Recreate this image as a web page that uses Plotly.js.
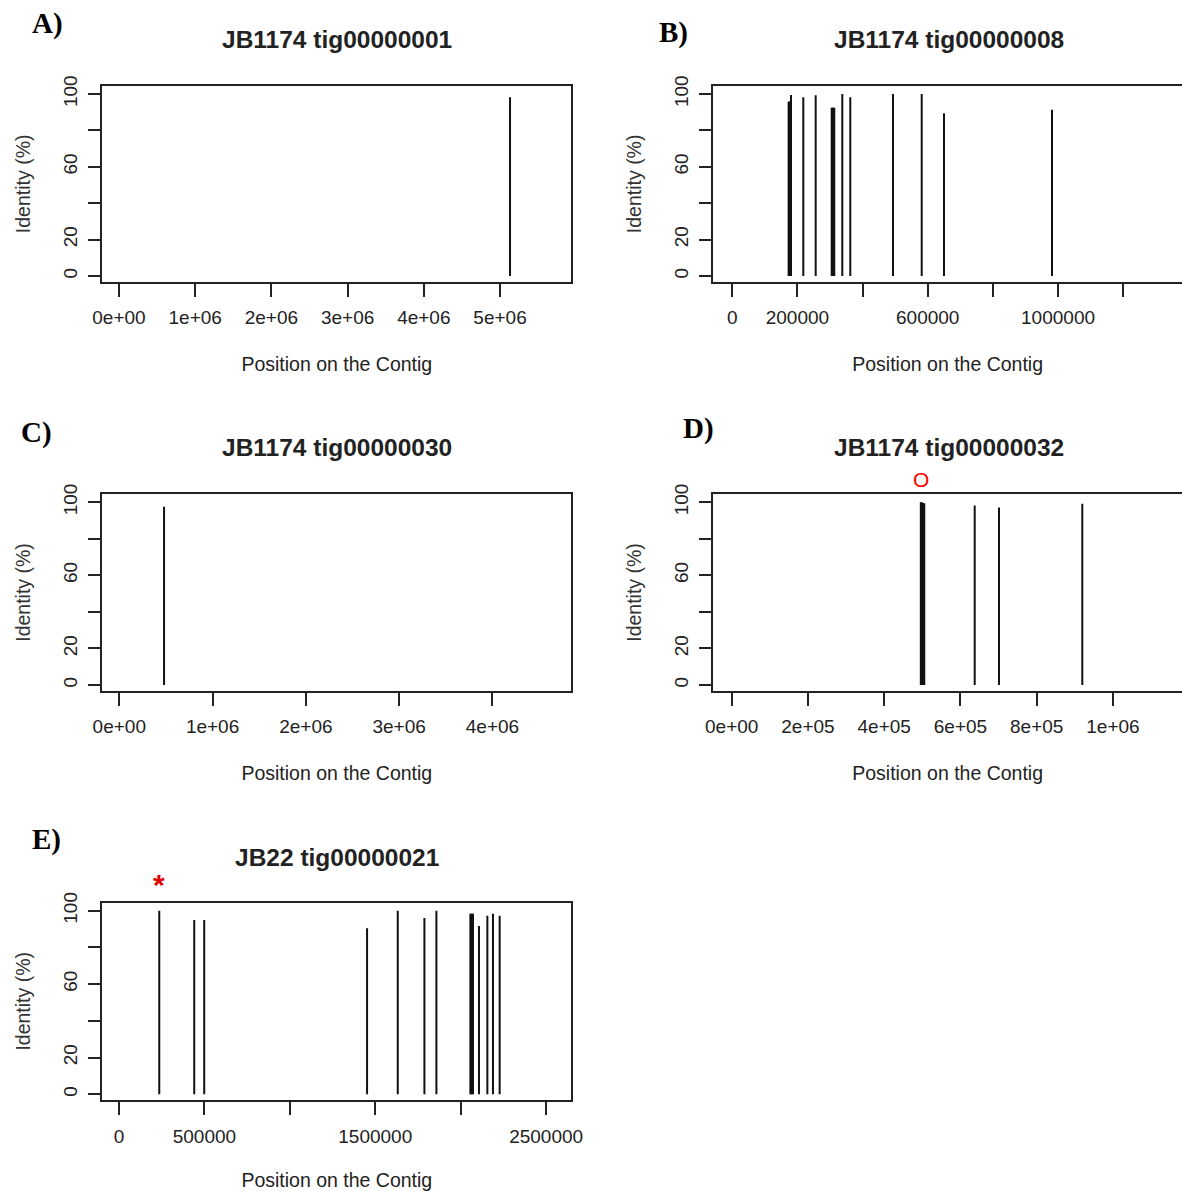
<!DOCTYPE html>
<html>
<head>
<meta charset="utf-8">
<script src="https://cdn.plot.ly/plotly-3.0.1.min.js"></script>
<style>html,body{margin:0;padding:0;background:#fff;}#chart{width:1182px;height:1191px;}</style>
</head>
<body>
<div id="chart"></div>
<script>
// ---- Data ----
const titles = ["JB1174 tig00000001", "JB1174 tig00000008", "JB1174 tig00000030", "JB1174 tig00000032", "JB22 tig00000021"];
const panelLetters = ["A)", "B)", "C)", "D)", "E)"];

const posA = [5131000];
const idA  = [98.2];

const posB = [173000, 175500, 178000, 180200, 218000, 256000, 305200, 307800, 310400, 313100, 337700, 362300, 493300, 581500, 649900, 981500];
const idB  = [95.8, 95.8, 96.0, 99.5, 98.2, 99.3, 92.5, 92.5, 92.5, 92.5, 100, 98.2, 100, 100, 89.4, 91.4];

const posC = [480000];
const idC  = [97.5];

const posD = [496000, 499000, 502000, 505000, 637300, 701000, 919500];
const idD  = [100, 100, 99.5, 99.5, 98.2, 97.1, 99.2];

const posE = [235700, 440400, 498800, 1452000, 1631600, 1787700, 1857900, 2056700, 2061700, 2066800, 2071900, 2107000, 2156100, 2188900, 2228000];
const idE  = [100, 94.9, 94.9, 90.4, 100, 96, 100, 98.4, 98.4, 98.4, 98.4, 91.7, 97.3, 98.4, 97.3];

const yTickVals = [0, 20, 40, 60, 80, 100];
const yTickText = ["0", "20", "", "60", "", "100"];

const xTickValsA = [0, 1e6, 2e6, 3e6, 4e6, 5e6];
const xTickTextA = ["0e+00", "1e+06", "2e+06", "3e+06", "4e+06", "5e+06"];
const xTickValsB = [0, 2e5, 4e5, 6e5, 8e5, 1e6, 1.2e6];
const xTickTextB = ["0", "200000", "", "600000", "", "1000000", ""];
const xTickValsC = [0, 1e6, 2e6, 3e6, 4e6];
const xTickTextC = ["0e+00", "1e+06", "2e+06", "3e+06", "4e+06"];
const xTickValsD = [0, 2e5, 4e5, 6e5, 8e5, 1e6];
const xTickTextD = ["0e+00", "2e+05", "4e+05", "6e+05", "8e+05", "1e+06"];
const xTickValsE = [0, 5e5, 1e6, 1.5e6, 2e6, 2.5e6];
const xTickTextE = ["0", "500000", "", "1500000", "", "2500000"];

const xTitle = "Position on the Contig";
const yTitle = "Identity (%)";

// ---- Build ----
const FONT = "Liberation Sans, Arial, Helvetica, sans-serif";
const TXT = "#222";

function stems(xs, ys, xa, ya) {
  const x = [], y = [];
  xs.forEach((v, i) => { x.push(v, v, null); y.push(0, ys[i], null); });
  return {type: "scatter", mode: "lines", x: x, y: y, xaxis: xa, yaxis: ya,
          line: {color: "#111", width: 2}, hoverinfo: "skip", showlegend: false, connectgaps: false};
}

const traces = [
  stems(posA, idA, "x", "y"),
  stems(posB, idB, "x2", "y2"),
  stems(posC, idC, "x3", "y3"),
  stems(posD, idD, "x4", "y4"),
  stems(posE, idE, "x5", "y5")
];

const W = 1182, H = 1191;
const colL = [102.3 / W, 571.3 / W];
const colR = [713.3 / W, 1.0];
const rows = [[1 - 281.5 / H, 1 - 86.2 / H], [1 - 690.5 / H, 1 - 494.4 / H], [1 - 1099.8 / H, 1 - 902.8 / H]];
const yRange = [-3, 104.3];

function xAxis(domain, range, vals, text, anchor) {
  return {domain: domain, range: range, anchor: anchor, tickmode: "array", tickvals: vals, ticktext: text,
          showline: true, mirror: true, linecolor: "#222", linewidth: 2,
          ticks: "outside", ticklen: 13, tickwidth: 2, tickcolor: "#222",
          showgrid: false, zeroline: false, automargin: false, fixedrange: true,
          ticklabelstandoff: 5,
          tickfont: {family: FONT, size: 19, color: TXT},
          title: {text: xTitle, font: {family: FONT, size: 19.5, color: TXT}, standoff: 30}};
}
function yAxis(domain, anchor) {
  return {domain: domain, range: yRange, anchor: anchor, tickmode: "array", tickvals: yTickVals, ticktext: yTickText,
          tickangle: -90,
          showline: true, mirror: true, linecolor: "#222", linewidth: 2,
          ticks: "outside", ticklen: 12, tickwidth: 2, tickcolor: "#222",
          showgrid: false, zeroline: false, automargin: false, fixedrange: true,
          ticklabelstandoff: 4,
          tickfont: {family: FONT, size: 19, color: TXT},
          title: {text: yTitle, font: {family: FONT, size: 19.5, color: "#333"}, standoff: 24}};
}

const annotations = [];
const titlePos = [[(102 + 571) / 2, 40], [(714 + 1183) / 2, 40], [(102 + 571) / 2, 447], [(714 + 1183) / 2, 447], [(102 + 571) / 2, 857]];
titles.forEach((t, i) => {
  annotations.push({text: "<b>" + t + "</b>", xref: "paper", yref: "paper", x: titlePos[i][0] / W, y: 1 - titlePos[i][1] / H,
    xanchor: "center", yanchor: "middle", showarrow: false, font: {family: FONT, size: 24.5, color: TXT}});
});
const letterPos = [[47, 23], [673, 32], [36, 432], [698, 428], [46, 839]];
panelLetters.forEach((t, i) => {
  annotations.push({text: "<b>" + t + "</b>", xref: "paper", yref: "paper", x: letterPos[i][0] / W, y: 1 - letterPos[i][1] / H,
    xanchor: "center", yanchor: "middle", showarrow: false, font: {family: "Liberation Serif, Times New Roman, serif", size: 29, color: "#000"}});
});
annotations.push({text: "O", xref: "x4", yref: "paper", x: 4.96e5, y: 1 - 479.5 / H, xanchor: "center", yanchor: "middle",
  showarrow: false, font: {family: "Liberation Sans, Arial, sans-serif", size: 21, color: "#ff0000"}});
annotations.push({text: "<b>*</b>", xref: "x5", yref: "paper", x: posE[0], y: 1 - 884 / H, xanchor: "center", yanchor: "middle",
  showarrow: false, font: {family: FONT, size: 30, color: "#e00000"}});

const layout = {
  width: W, height: H, margin: {l: 0, r: 0, t: 0, b: 0},
  paper_bgcolor: "#fff", plot_bgcolor: "#fff", showlegend: false,
  xaxis:  xAxis(colL, [-219000, 5935000], xTickValsA, xTickTextA, "y"),
  yaxis:  yAxis(rows[0], "x"),
  xaxis2: xAxis(colR, [-58300, 1380600], xTickValsB, xTickTextB, "y2"),
  yaxis2: yAxis(rows[0], "x2"),
  xaxis3: xAxis(colL, [-182000, 4845000], xTickValsC, xTickTextC, "y3"),
  yaxis3: yAxis(rows[1], "x3"),
  xaxis4: xAxis(colR, [-48300, 1181000], xTickValsD, xTickTextD, "y4"),
  yaxis4: yAxis(rows[1], "x4"),
  xaxis5: xAxis(colL, [-97700, 2647400], xTickValsE, xTickTextE, "y5"),
  yaxis5: yAxis(rows[2], "x5"),
  annotations: annotations
};

Plotly.newPlot("chart", traces, layout, {displayModeBar: false, staticPlot: true});
</script>
</body>
</html>
